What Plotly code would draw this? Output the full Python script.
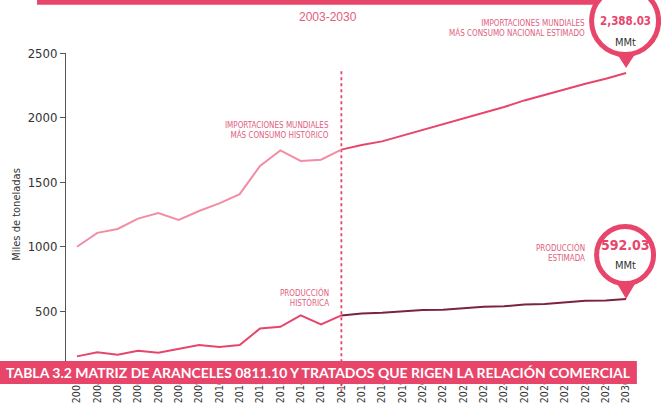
import plotly.graph_objects as go

# ---- data ----
years_hist = list(range(2003, 2017))
years_proj = list(range(2016, 2031))
imp_hist = [1000, 1108, 1138, 1218, 1262, 1208, 1277, 1336, 1408, 1626, 1746, 1664, 1674, 1752]
imp_proj = [1752, 1788, 1816, 1860, 1906, 1953, 1997, 2040, 2082, 2133, 2177, 2221, 2262, 2301, 2345]
prod_hist = [152, 183, 165, 196, 180, 211, 240, 224, 240, 368, 381, 469, 399, 469]
prod_proj = [469, 484, 490, 500, 511, 513, 523, 536, 539, 554, 557, 570, 583, 585, 596]
year_labels = [str(y) for y in range(2003, 2031)]
y_ticks = [500, 1000, 1500, 2000, 2500]

PINK = "#E8456B"
LIGHT = "#F28DA5"
DARK = "#7B2341"
TXT = "#E0607E"
NARROW = "Liberation Sans Narrow, DejaVu Sans Condensed, Arial Narrow, sans-serif"

X0, X1 = 2002.46, 2030.93
Y0, Y1 = 0, 2500


def px(x):
    return (x - X0) / (X1 - X0)


def py(y):
    return (y - Y0) / (Y1 - Y0)


fig = go.Figure()
fig.add_trace(go.Scatter(x=years_hist, y=imp_hist, mode="lines",
                         line=dict(color=LIGHT, width=2), hoverinfo="skip"))
fig.add_trace(go.Scatter(x=years_proj, y=imp_proj, mode="lines",
                         line=dict(color=PINK, width=2), hoverinfo="skip"))
fig.add_trace(go.Scatter(x=years_hist, y=prod_hist, mode="lines",
                         line=dict(color=PINK, width=2), hoverinfo="skip"))
fig.add_trace(go.Scatter(x=years_proj, y=prod_proj, mode="lines",
                         line=dict(color=DARK, width=2), hoverinfo="skip"))

shapes = []
# dotted divider
shapes.append(dict(type="line", xref="x", yref="paper", x0=2016, x1=2016, y0=-0.05, y1=0.947,
                   line=dict(color=PINK, width=1.8, dash="dot"), layer="below"))
# top bar
shapes.append(dict(type="rect", xref="paper", yref="paper", x0=-0.05, x1=0.93, y0=1.149, y1=1.2,
                   fillcolor=PINK, line=dict(width=0)))
# bottom banner
shapes.append(dict(type="rect", xref="paper", yref="paper", x0=-0.12, x1=0.986, y0=-0.025, y1=0.0465,
                   fillcolor=PINK, line=dict(width=0)))


def pin(xv, yv, tip, center, r, half):
    xa, ya = px(xv), py(yv)
    shapes.append(dict(type="path", xref="paper", yref="paper", xsizemode="pixel", ysizemode="pixel",
                       xanchor=xa, yanchor=ya,
                       path=f"M {-half} {tip + 17} L 0 {tip} L {half} {tip + 17} Z",
                       fillcolor=PINK, line=dict(width=0)))
    shapes.append(dict(type="circle", xref="paper", yref="paper", xsizemode="pixel", ysizemode="pixel",
                       xanchor=xa, yanchor=ya, x0=-1 - r, x1=-1 + r, y0=center - r, y1=center + r,
                       fillcolor="white", line=dict(color=PINK, width=5)))


pin(years_proj[-1], imp_proj[-1], 5, 52, 33.5, 11)
pin(years_proj[-1], prod_proj[-1], 0, 44, 28.5, 10)

annotations = [
    dict(text="2003-2030", xref="paper", yref="paper", x=px(2015.35), y=1.11, xanchor="center",
         yanchor="middle", showarrow=False,
         font=dict(family="Liberation Sans, Arial", size=12, color=TXT)),
    dict(text="IMPORTACIONES MUNDIALES<br>MÁS CONSUMO NACIONAL ESTIMADO", xref="paper", yref="paper",
         x=0.899, y=1.076, xanchor="right", yanchor="middle", align="right", showarrow=False,
         font=dict(family=NARROW, size=8, color=TXT)),
    dict(text="IMPORTACIONES MUNDIALES<br>MÁS CONSUMO HISTÓRICO", xref="x", yref="y",
         x=2016, y=1901, xshift=-10, xanchor="right", yanchor="middle", align="right", showarrow=False,
         font=dict(family=NARROW, size=8, color=TXT)),
    dict(text="PRODUCCIÓN<br>HISTÓRICA", xref="x", yref="y",
         x=2016, y=606, xshift=-10, xanchor="right", yanchor="middle", align="right", showarrow=False,
         font=dict(family=NARROW, size=8, color=TXT)),
    dict(text="PRODUCCIÓN<br>ESTIMADA", xref="x", yref="y",
         x=2030, y=957, xshift=-39, xanchor="right", yanchor="middle", align="right", showarrow=False,
         font=dict(family=NARROW, size=8, color=TXT)),
    dict(text="<b>2,388.03</b>", xref="x", yref="y", x=2030, y=imp_proj[-1], yshift=52, xshift=-1,
         showarrow=False, font=dict(family=NARROW, size=11.5, color=PINK)),
    dict(text="MMt", xref="x", yref="y", x=2030, y=imp_proj[-1], yshift=31, xshift=-1,
         showarrow=False, font=dict(family=NARROW, size=11, color="#333333")),
    dict(text="<b>592.03</b>", xref="x", yref="y", x=2030, y=prod_proj[-1], yshift=54, xshift=-1,
         showarrow=False, font=dict(family=NARROW, size=14, color=PINK)),
    dict(text="MMt", xref="x", yref="y", x=2030, y=prod_proj[-1], yshift=34, xshift=-1,
         showarrow=False, font=dict(family=NARROW, size=11, color="#333333")),
    dict(text="TABLA 3.2 MATRIZ DE ARANCELES 0811.10 Y TRATADOS QUE RIGEN LA RELACIÓN COMERCIAL",
         xref="paper", yref="paper", x=-0.107, y=0.011, xanchor="left", yanchor="middle", showarrow=False,
         font=dict(family="Lato, Open Sans, sans-serif", size=14, color="white", weight="bold")),
]

fig.update_layout(
    width=661, height=407,
    margin=dict(l=66, r=16, t=53, b=31, autoexpand=False),
    paper_bgcolor="white", plot_bgcolor="white",
    showlegend=False,
    shapes=shapes, annotations=annotations,
    xaxis=dict(range=[X0, X1], tickmode="array", tickvals=list(range(2003, 2031)), ticktext=year_labels,
               tickangle=-90, showgrid=False, zeroline=False, showline=False, ticks="",
               tickfont=dict(family=NARROW, size=10.5, color="#333333"), automargin=False),
    yaxis=dict(range=[Y0, Y1], tickvals=y_ticks, showgrid=False, zeroline=False, showline=True,
               linecolor="#555555", linewidth=1, ticks="outside", ticklen=5, tickcolor="#555555",
               tickfont=dict(family=NARROW, size=13, color="#333333"), automargin=False,
               title=dict(text="Miles de toneladas", standoff=4,
                          font=dict(family=NARROW, size=11, color="#333333"))),
)

fig.write_html("out.html", config={"displayModeBar": False},
               post_script="document.body.style.margin='0px';document.body.style.overflow='hidden';")
